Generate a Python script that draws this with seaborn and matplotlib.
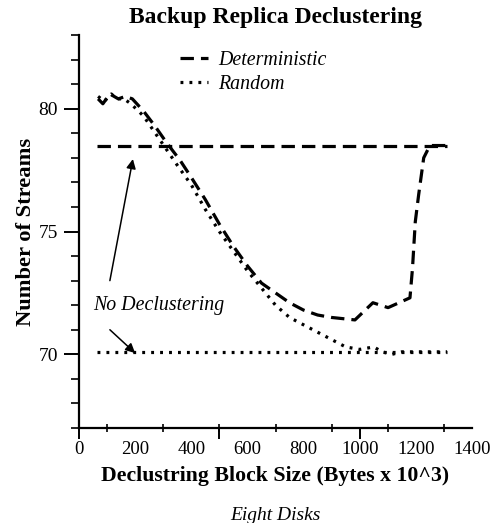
import matplotlib
matplotlib.use("Agg")
import matplotlib.pyplot as plt
import seaborn as sns
import numpy as np
import pandas as pd
from matplotlib.ticker import MultipleLocator

# ---- data ----
det_x = [68, 85, 110, 140, 165, 190, 230, 270, 313, 360, 400, 450, 500, 550, 600,
         650, 700, 750, 800, 850, 900, 983, 1047, 1101, 1179, 1188, 1198, 1210,
         1228, 1250, 1311]
det_y = [80.4, 80.2, 80.6, 80.4, 80.5, 80.4, 79.9, 79.3, 78.6, 77.9, 77.2, 76.3,
         75.3, 74.4, 73.6, 72.9, 72.5, 72.1, 71.8, 71.6, 71.5, 71.4, 72.1, 71.9,
         72.3, 73.5, 75.4, 76.5, 78.0, 78.5, 78.5]

rnd_x = [68, 90, 115, 135, 160, 185, 230, 290, 350, 400, 450, 500, 550, 600, 650,
         700, 750, 800, 850, 900, 950, 1000, 1050, 1080, 1115, 1150, 1311]
rnd_y = [80.5, 80.3, 80.6, 80.4, 80.4, 80.2, 79.7, 78.7, 77.7, 76.9, 75.9, 75.0,
         74.2, 73.4, 72.7, 72.0, 71.5, 71.2, 70.9, 70.6, 70.3, 70.2, 70.3, 70.1,
         70.0, 70.1, 70.1]

nodecl_x = [64, 1311]
nodecl_det_y = [78.5, 78.5]
nodecl_rnd_y = [70.1, 70.1]

series_labels = ["Deterministic", "Random"]
x_ticklabels = [0, 200, 400, 600, 800, 1000, 1200, 1400]
y_ticklabels = [70, 75, 80]

title = "Backup Replica Declustering"
xlabel = "Declustring Block Size (Bytes x 10^3)"
ylabel = "Number of Streams"
caption = "Eight Disks"
annot = "No Declustering"

# ---- style ----
sns.set_style("ticks")
plt.rcParams["font.family"] = ["Liberation Serif", "DejaVu Serif"]
plt.rcParams["text.color"] = "black"
plt.rcParams["axes.labelcolor"] = "black"
plt.rcParams["xtick.color"] = "black"
plt.rcParams["ytick.color"] = "black"
plt.rcParams["axes.edgecolor"] = "black"

fig = plt.figure(figsize=(4.94, 5.23), dpi=100)
ax = fig.add_axes([79 / 494, 1 - 428 / 523, (472 - 79) / 494, (428 - 35) / 523])

DASH = (0, (4.2, 2.2))
DOT = (0, (0.9, 1.9))
LW = 2.3

sns.lineplot(x=det_x, y=det_y, ax=ax, color="black", lw=LW, linestyle=DASH,
             estimator=None, sort=False, label=series_labels[0])
sns.lineplot(x=rnd_x, y=rnd_y, ax=ax, color="black", lw=LW, linestyle=DOT,
             estimator=None, sort=False, label=series_labels[1])
sns.lineplot(x=nodecl_x, y=nodecl_det_y, ax=ax, color="black", lw=LW, linestyle=DASH,
             estimator=None, sort=False, legend=False)
sns.lineplot(x=nodecl_x, y=nodecl_rnd_y, ax=ax, color="black", lw=LW, linestyle=DOT,
             estimator=None, sort=False, legend=False)

ax.set_xlim(0, 1400)
ax.set_ylim(67, 83)

# spines
ax.spines["top"].set_visible(False)
ax.spines["right"].set_visible(False)
for s in ("left", "bottom"):
    ax.spines[s].set_linewidth(1.6)
    ax.spines[s].set_color("black")

# x ticks: labels every 200, small ticks every 100, long ticks every 500
ax.set_xticks(x_ticklabels)
ax.set_xticklabels([str(v) for v in x_ticklabels])
ax.tick_params(axis="x", which="major", length=0, pad=9, labelsize=13.5)
ax.xaxis.set_minor_locator(MultipleLocator(100))
ax.tick_params(axis="x", which="minor", length=6, width=1.2, direction="inout")
sec = ax.secondary_xaxis("bottom")
sec.set_xticks([0, 500, 1000])
sec.set_xticklabels([])
sec.tick_params(axis="x", length=8, width=1.4, direction="out", color="black")
sec.spines["bottom"].set_visible(False)

# y ticks
ax.set_yticks(y_ticklabels)
ax.set_yticklabels([str(v) for v in y_ticklabels])
ax.yaxis.set_minor_locator(MultipleLocator(1))
ax.tick_params(axis="y", which="major", length=11, width=1.4, labelsize=14, pad=4)
ax.tick_params(axis="y", which="minor", length=6, width=1.2)

ax.set_xlabel(xlabel, fontsize=15.7, fontweight="bold", labelpad=6)
ax.set_ylabel(ylabel, fontsize=16.2, fontweight="bold", labelpad=2)
ax.set_title(title, fontsize=17, fontweight="bold", pad=9)

fig.text(0.5 * (79 + 472) / 494, 1 - 515 / 523, caption, ha="center", va="center",
         fontsize=14, style="italic")

# annotations
ax.text(50, 72.0, annot, fontsize=14.3, style="italic", ha="left", va="center")
ax.annotate("", xy=(192, 77.95), xytext=(110, 73.0),
            arrowprops=dict(arrowstyle="-|>", color="black", lw=1.1,
                            mutation_scale=14, shrinkA=0, shrinkB=0))
ax.annotate("", xy=(200, 70.05), xytext=(110, 71.0),
            arrowprops=dict(arrowstyle="-|>", color="black", lw=1.1,
                            mutation_scale=14, shrinkA=0, shrinkB=0))

leg = ax.legend(loc="upper left", bbox_to_anchor=((180 - 79) / 393, (428 - 51) / 393),
                frameon=False, fontsize=14.3, handlelength=1.4, handletextpad=0.5,
                borderpad=0, borderaxespad=0, labelspacing=0.25)
for t in leg.get_texts():
    t.set_fontstyle("italic")

fig.savefig("out.png", dpi=100)
